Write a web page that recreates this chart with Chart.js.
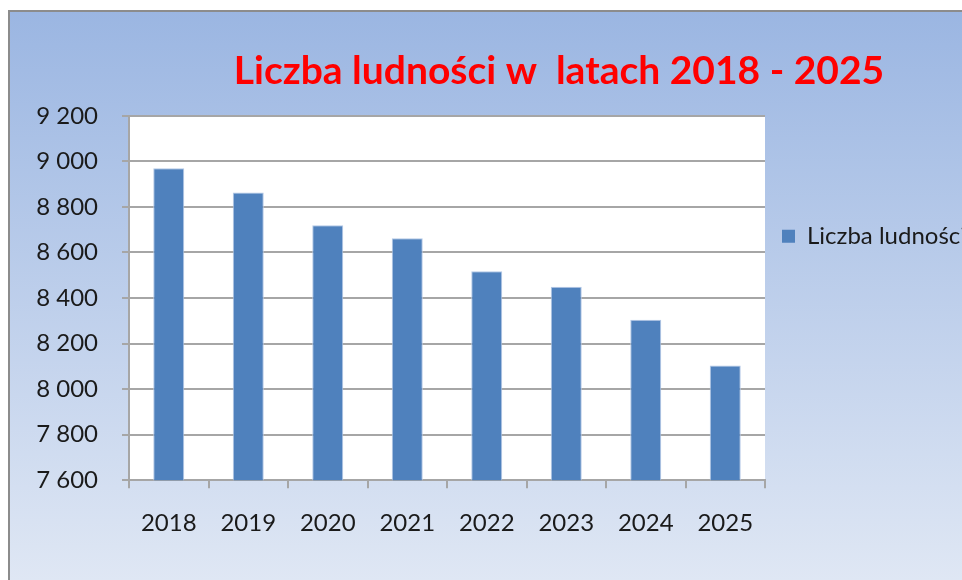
<!DOCTYPE html>
<html>
<head>
<meta charset="utf-8">
<script src="https://cdn.jsdelivr.net/npm/chart.js@4.4.1/dist/chart.umd.min.js"></script>
<style>
    html, body { margin: 0; padding: 0; background: #fff; overflow: hidden; width: 962px; height: 580px; }
    #box {
        position: absolute; left: 8px; top: 10px; width: 1141px; height: 600px;
        border-left: 2px solid #8c8c8c; border-top: 2px solid #8c8c8c;
        background: linear-gradient(to bottom, #9bb6e2 0px, #dfe7f4 568px);
    }
    canvas { display: block; }
</style>
</head>
<body>
<div id="box"><canvas id="chart" width="1141" height="568"></canvas></div>
<script>
const years = ['2018', '2019', '2020', '2021', '2022', '2023', '2024', '2025'];
const population = [8970, 8863, 8719, 8662, 8517, 8449, 8305, 8104];
const seriesName = 'Liczba ludności';
const chartTitle = 'Liczba ludności w  latach 2018 - 2025';
const yMin = 7600;
const yMax = 9200;
const yStep = 200;

// white plot area on top of the gradient
const plotBackground = {
    id: 'plotBackground',
    beforeDraw(chart) {
        const { ctx, chartArea: a } = chart;
        ctx.save();
        ctx.fillStyle = '#ffffff';
        ctx.fillRect(a.left, a.top, a.right - a.left, a.bottom - a.top);
        ctx.restore();
    }
};

const tickFont = { family: 'Lato', size: 24 };
const gridGray = '#a6a6a6';

new Chart(document.getElementById('chart'), {
    type: 'bar',
    data: {
        labels: years,
        datasets: [{
            label: seriesName,
            data: population,
            backgroundColor: '#4f81bd',
            borderColor: '#b4c8e6',
            borderWidth: 1,
            categoryPercentage: 1,
            barPercentage: 0.39
        }]
    },
    options: {
        responsive: false,
        devicePixelRatio: 1,
        animation: false,
        // the chart is wider than the window (legend runs off the edge like the original)
        layout: { padding: { left: -43, right: 0, top: 0, bottom: 21 } },
        scales: {
            x: {
                grid: { drawOnChartArea: false, color: gridGray, lineWidth: 2, tickLength: 8 },
                border: { color: gridGray, width: 2 },
                ticks: { font: tickFont, color: '#1a1a1a', padding: 21 }
            },
            y: {
                min: yMin,
                max: yMax,
                grid: { color: gridGray, lineWidth: 2, tickLength: 7 },
                border: { color: gridGray, width: 2 },
                ticks: {
                    stepSize: yStep,
                    font: tickFont,
                    color: '#1a1a1a',
                    padding: 24,
                    callback: v => String(v).replace(/\B(?=(\d{3})+(?!\d))/g, ' ')
                },
                afterFit: s => { s.width = 162; }
            },
            // empty spacer outside the legend so the title centres like the original
            pad: {
                type: 'linear',
                position: 'right',
                weight: 2000,
                grid: { display: false },
                border: { display: false },
                ticks: { display: false },
                afterFit: s => { s.width = Math.max(0, s.chart.width - 755 - s.chart.legend.width); }
            }
        },
        plugins: {
            title: {
                display: true,
                text: chartTitle,
                color: '#ff0000',
                font: { family: 'Lato', size: 39, weight: 'bold' },
                padding: { top: 36, bottom: 21 }
            },
            legend: {
                position: 'right',
                align: 'start',
                fullSize: false,
                title: { display: true, text: '', padding: { top: 0, bottom: 77 } },
                labels: {
                    boxWidth: 13,
                    boxHeight: 13,
                    padding: 17,
                    color: '#1a1a1a',
                    font: { family: 'Lato', size: 24 },
                    generateLabels: c => Chart.defaults.plugins.legend.labels.generateLabels(c)
                        .map(l => ({ ...l, lineWidth: 0 }))
                }
            },
            tooltip: { enabled: false }
        }
    },
    plugins: [plotBackground]
});
</script>
</body>
</html>
